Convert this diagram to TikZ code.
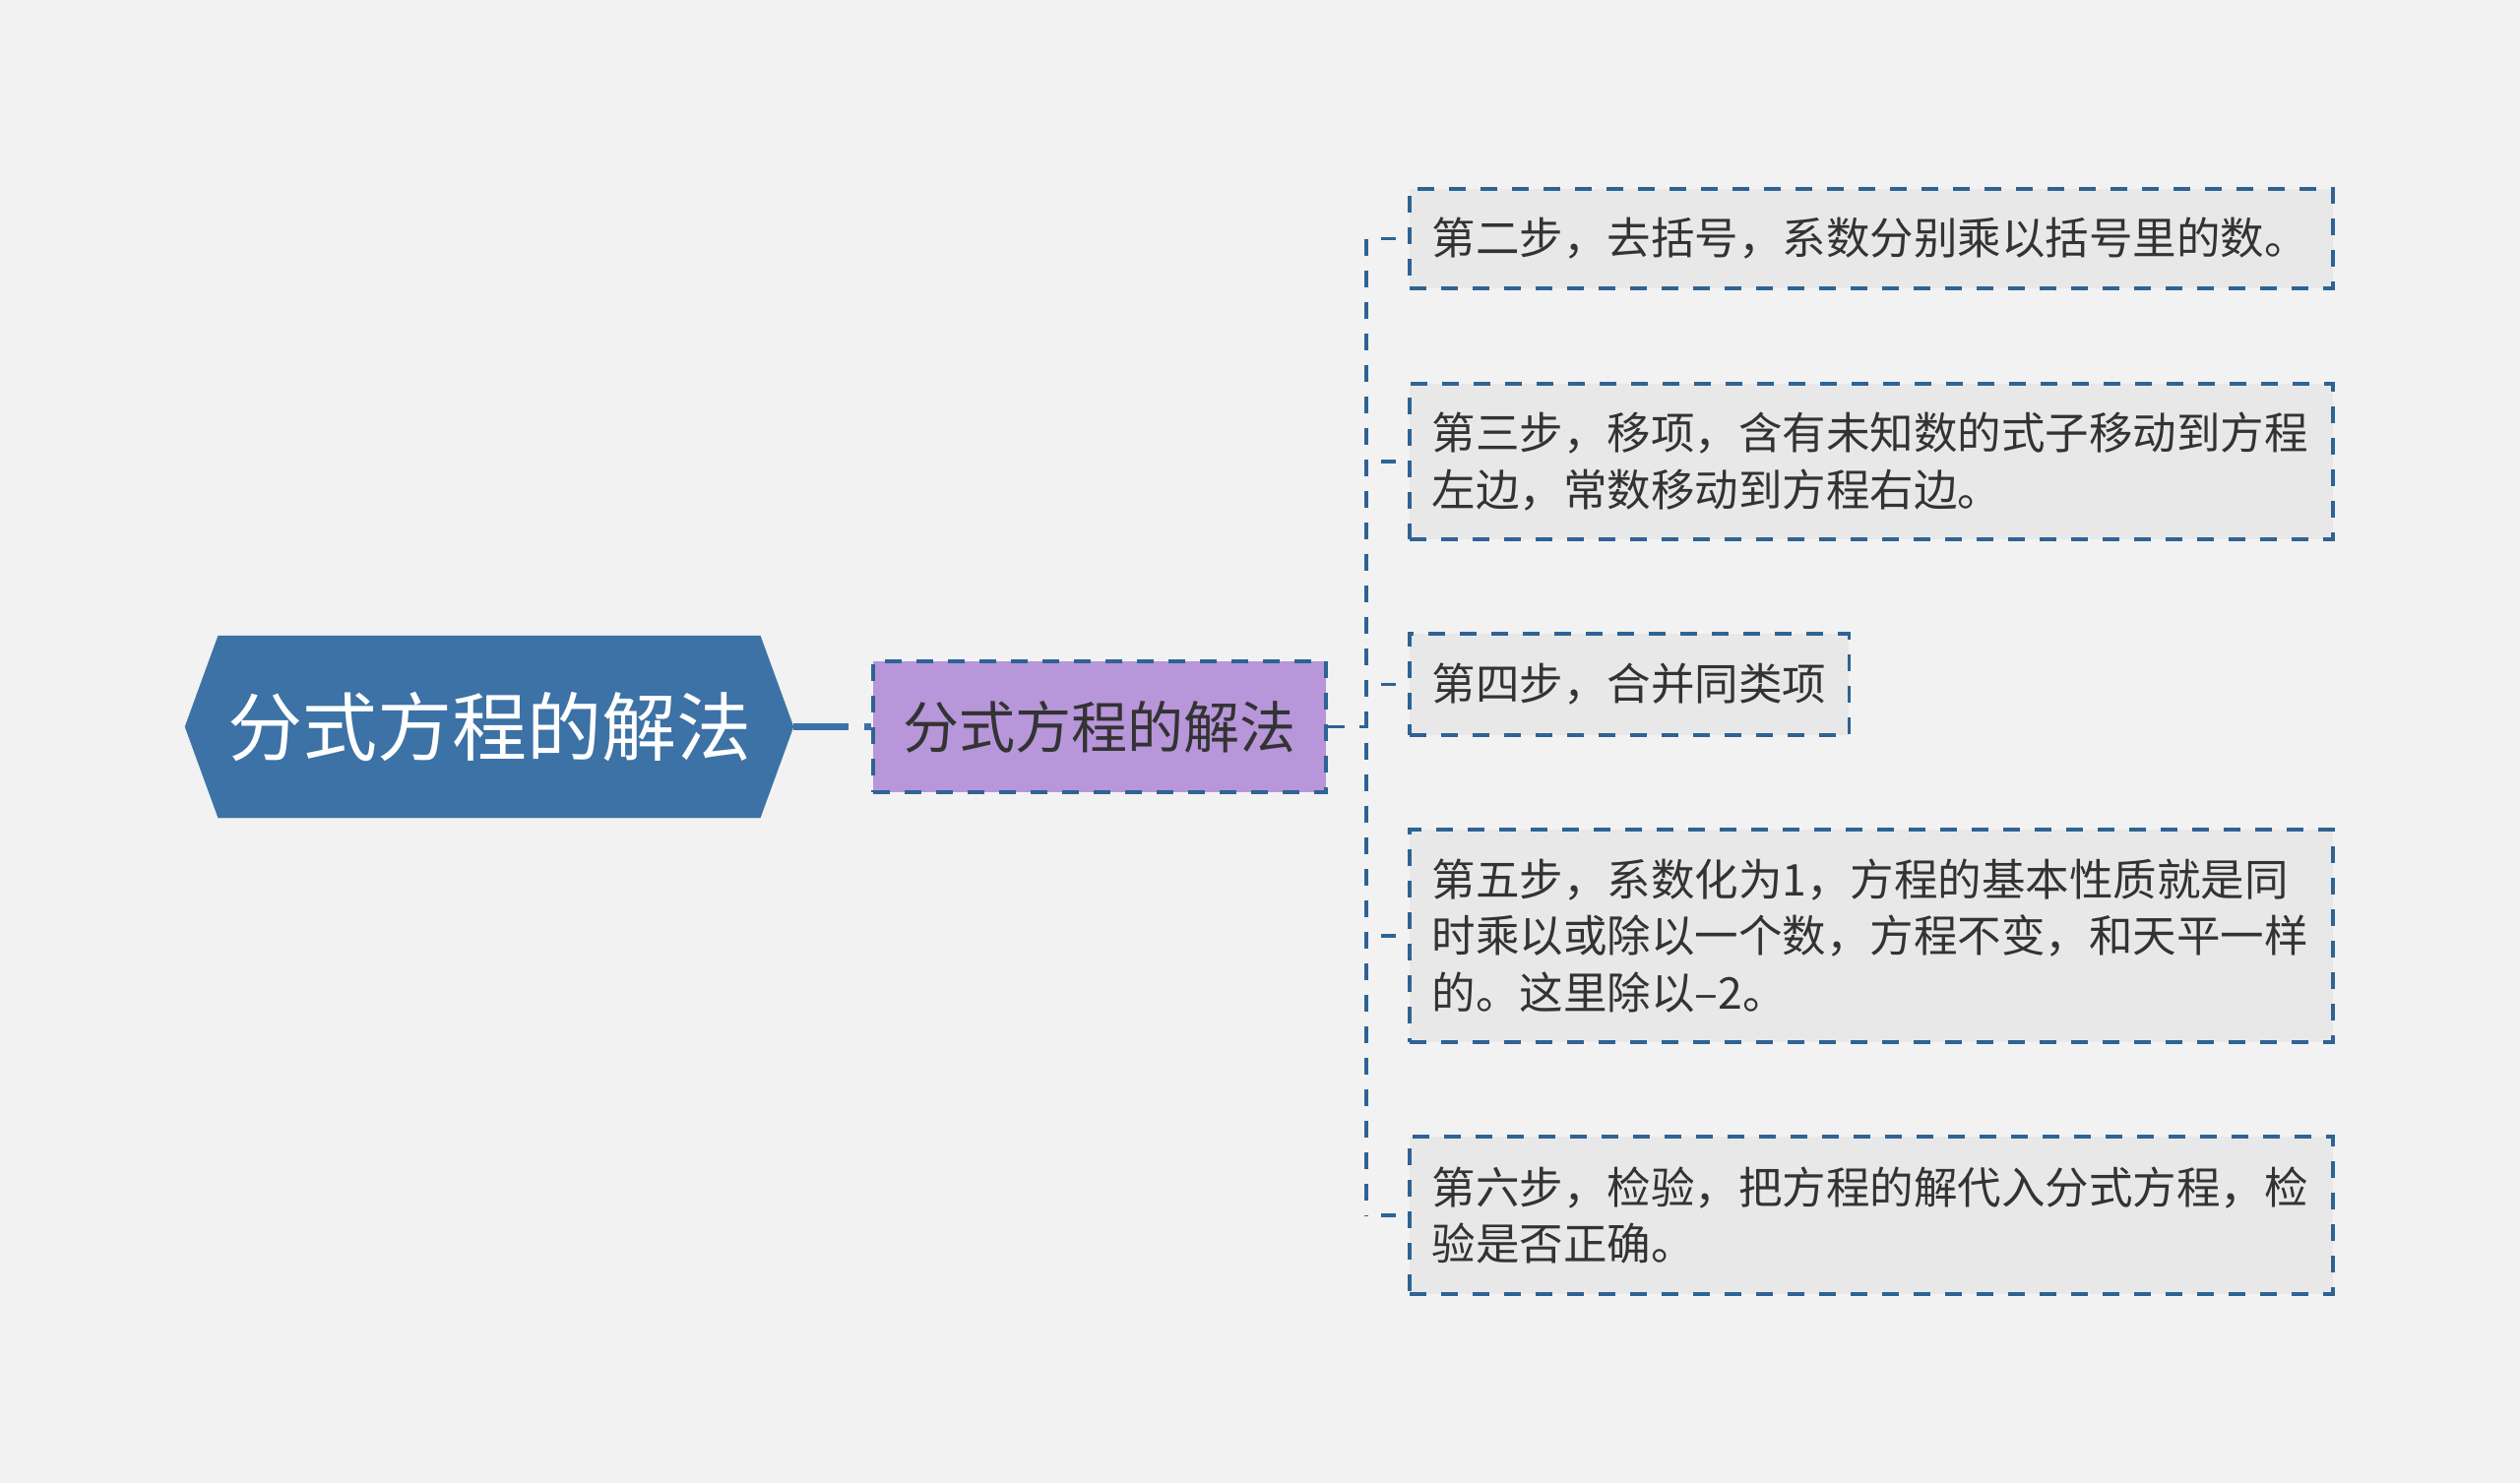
\documentclass[tikz,border=0pt]{standalone}
\usepackage{fontspec}
\setmainfont{Noto Sans CJK SC}
\usetikzlibrary{shapes.symbols}
\definecolor{rootblue}{RGB}{60,114,165}
\definecolor{lineblue}{RGB}{46,99,148}
\definecolor{midpurple}{RGB}{183,150,217}
\definecolor{leafgray}{RGB}{232,232,232}
\definecolor{bggray}{RGB}{242,242,242}
\definecolor{textgray}{RGB}{51,51,51}

\begin{document}
\begin{tikzpicture}[x = 1pt, y = -1pt,
  rootbox/.style = {signal, signal to = west and east, signal pointer angle = 140,
    fill = rootblue, draw = rootblue, text = white, inner sep = 0pt,
    minimum width = 618pt, minimum height = 185pt, font = \fontsize{76}{90}\selectfont},
  midbox/.style = {draw = lineblue, line width = 3.5pt, dash pattern = on 17pt off 15pt,
    fill = midpurple, text = textgray, inner sep = 0pt,
    minimum width = 460pt, minimum height = 133pt, font = \fontsize{57}{68}\selectfont},
  leaf/.style = {draw = lineblue, line width = 3.5pt, dash pattern = on 17pt off 15pt,
    fill = leafgray, text = textgray, anchor = west, align = left,
    inner xsep = 23pt, inner ysep = 10pt, font = \fontsize{44.5}{57.5}\selectfont},
  wideleaf/.style = {leaf, text width = 892pt},
  link/.style = {draw = lineblue, line width = 3.5pt, dash pattern = on 17pt off 15pt}]
\fill[bggray] (0,0) rectangle (2560,1507);
\node (root) [rootbox] at (497,738.5) {分式方程的解法};
\node (mid) [midbox] at (1117,738.5) {分式方程的解法};
\node (l1) [wideleaf, minimum height = 101pt] at (1430,242.5) {第二步，去括号，系数分别乘以括号里的数。};
\node (l2) [wideleaf, minimum height = 158pt] at (1430,469) {第三步，移项，含有未知数的式子移动到方程\\左边，常数移动到方程右边。};
\node (l3) [leaf, minimum height = 103pt] at (1430,695.5) {第四步，合并同类项};
\node (l4) [wideleaf, minimum height = 216pt] at (1430,951) {第五步，系数化为1，方程的基本性质就是同\\时乘以或除以一个数，方程不变，和天平一样\\的。这里除以–2。};
\node (l5) [wideleaf, minimum height = 160pt] at (1430,1235) {第六步，检验，把方程的解代入分式方程，检\\验是否正确。};
\coordinate (fork) at (1388,738.5);
\draw [draw = rootblue, line width = 7pt, dash pattern = on 56pt off 16pt on 60pt off 1pt] (root.east) -- (mid.west);
\draw [link] (mid.east) -- (fork);
\draw [link] (fork |- l1.west) -- (fork |- l5.west);
\foreach \i in {1,...,5}
  \draw [link, dash pattern = on 0pt off 15pt on 15pt off 15pt] (fork |- l\i.west) -- (l\i.west);
\end{tikzpicture}
\end{document}
